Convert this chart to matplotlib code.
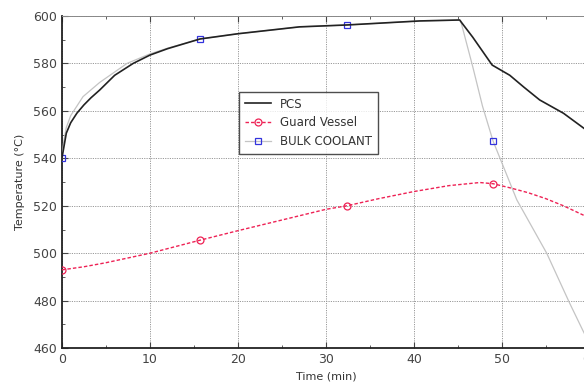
import matplotlib
matplotlib.use("Agg")
import matplotlib.pyplot as plt
from matplotlib.ticker import MultipleLocator

# PCS (black solid)
pcs_t = [0, 0.5, 1.0, 1.7, 2.5, 3.3, 4.3, 6.0, 8.1, 10.0, 12.0, 15.7, 20.0, 27.0, 32.4, 40.7, 45.2, 46.7, 48.9, 50.9, 52.5, 54.3, 57.0, 59.2, 61.0]
pcs_T = [540, 550.6, 555, 559, 562.5, 565.5, 568.8, 575, 580, 583.5, 586.2, 590.3, 592.5, 595.4, 596.2, 597.9, 598.3, 591, 579.3, 575, 570, 564.6, 559, 553, 548]

# BULK COOLANT (light line, blue squares at sampled points)
bulk_t = [0, 0.2, 0.5, 1.0, 2.4, 4.3, 7.4, 10.0, 12.0, 15.7, 20.0, 27.0, 32.4, 40.7, 45.3, 46.7, 47.8, 49.0, 51.7, 55.1, 57.7, 59.2, 60.5]
bulk_T = [540, 547, 553, 558, 566, 572, 580, 584, 586.4, 590.3, 592.5, 595.4, 596.2, 597.9, 598.2, 578.5, 562, 547.3, 522.5, 500, 479, 467.5, 458]
bulk_marks = [0, 9, 12, 17]

# Guard Vessel (red dashed, circles)
gv_t = [0, 2.5, 5, 10, 15.7, 20, 25, 30, 32.4, 36, 40, 44, 47.5, 49, 51, 53, 55, 57, 59.3, 61]
gv_T = [493, 494.3, 496, 500, 505.5, 509.5, 514, 518.5, 520, 523, 526, 528.5, 529.8, 529.3, 527.5, 525.5, 523, 520, 516, 513]
gv_marks = [0, 4, 8, 13]

fig = plt.figure(figsize=(5.84, 3.89), dpi=100)
ax = fig.add_axes([0.106, 0.105, 0.904, 0.854])

ax.plot(bulk_t, bulk_T, color="#c4c4c4", lw=0.9, linestyle="-",
        marker="s", markevery=bulk_marks, markersize=4.5, markerfacecolor="none",
        markeredgecolor="#3333dd", markeredgewidth=0.9, label="BULK COOLANT", zorder=3)
ax.plot(pcs_t, pcs_T, color="#222222", lw=1.2, label="PCS", zorder=4)
ax.plot(gv_t, gv_T, color="#ee2255", lw=1.0, linestyle=(0, (2.5, 1.5)),
        marker="o", markevery=gv_marks, markersize=5, markerfacecolor="none",
        markeredgecolor="#ee2255", markeredgewidth=0.9, label="Guard Vessel", zorder=3)

ax.set_xlim(0, 60)
ax.set_ylim(460, 600)
ax.xaxis.set_major_locator(MultipleLocator(10))
ax.xaxis.set_minor_locator(MultipleLocator(5))
ax.yaxis.set_major_locator(MultipleLocator(20))
ax.yaxis.set_minor_locator(MultipleLocator(10))
ax.tick_params(which="both", direction="in", top=True, right=True, colors="#444444",
               labelsize=9, labelcolor="#444444")
ax.tick_params(which="major", length=4)
ax.tick_params(which="minor", length=2.5)
ax.grid(True, which="major", color="#999999", linestyle=(0, (1.2, 1.2)), lw=0.7)

for s in ["left", "bottom"]:
    ax.spines[s].set_color("#222222")
    ax.spines[s].set_linewidth(1.3)
ax.spines["top"].set_color("#888888")
ax.spines["top"].set_linewidth(0.7)
ax.spines["right"].set_color("#888888")

ax.set_xlabel("Time (min)", fontsize=8, color="#333333", labelpad=4)
ax.set_ylabel("Temperature (°C)", fontsize=8, color="#333333", labelpad=6)

h, l = ax.get_legend_handles_labels()
order = [1, 2, 0]
leg = ax.legend([h[i] for i in order], [l[i] for i in order], loc="upper left",
                bbox_to_anchor=(0.324, 0.79), fontsize=8.5, frameon=True,
                fancybox=False, edgecolor="#222222", handlelength=2.2,
                borderpad=0.5, labelspacing=0.5)
leg.get_frame().set_linewidth(1.0)
for t in leg.get_texts():
    t.set_color("#333333")

fig.savefig("out.png", dpi=100)
